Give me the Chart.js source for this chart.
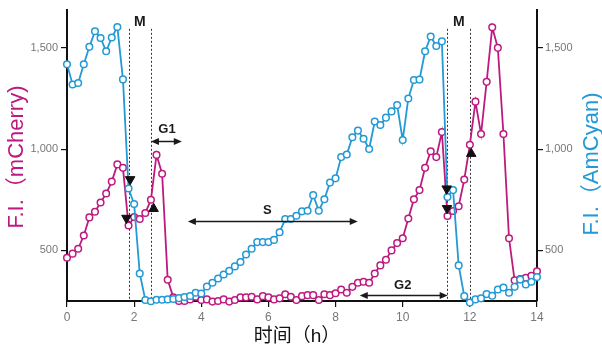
<!DOCTYPE html>
<html>
<head>
<meta charset="utf-8">
<script src="https://cdn.jsdelivr.net/npm/chart.js@4.4.1/dist/chart.umd.min.js"></script>
<style>
  html, body { margin: 0; padding: 0; background: #fff; }
  #wrap { width: 602px; height: 354px; }
</style>
</head>
<body>
<div id="wrap"><canvas id="chart" width="602" height="354"></canvas></div>
<script>
// fluorescence intensity, one frame every 10 min from 0 to 14 h
const mCherry = [
  464, 484, 508, 574, 663, 691, 737, 781, 840, 925, 908, 623, 665, 655, 685, 750, 972, 879, 355, 268,
  250, 250, 258, 271, 255, 258, 247, 250, 258, 247, 255, 268, 268, 271, 258, 274, 268, 258, 263, 283,
  271, 255, 274, 279, 279, 255, 283, 279, 288, 307, 291, 320, 340, 345, 340, 386, 426, 454, 500, 536,
  560, 658, 753, 798, 908, 990, 961, 1085, 670, 695, 718, 850, 1022, 1235, 1075, 1333, 1603, 1501, 1075, 560,
  352, 358, 365, 375, 397
];
const amCyan = [
  1420, 1320, 1327, 1420, 1506, 1583, 1550, 1484, 1552, 1604, 1345, 806, 729, 386, 255, 249, 256, 256, 258, 260,
  264, 270, 275, 291, 287, 322, 340, 361, 381, 399, 421, 443, 480, 508, 541, 541, 541, 552, 590, 655,
  655, 671, 693, 696, 773, 696, 753, 835, 856, 961, 974, 1059, 1092, 1052, 1001, 1137, 1120, 1156, 1187, 1218,
  1045, 1251, 1342, 1344, 1484, 1557, 1510, 1533, 764, 798, 426, 274, 242, 258, 263, 284, 276, 307, 317, 291,
  320, 356, 332, 345, 368
];
const stepHours = 1 / 6;
const xTicks = [0, 2, 4, 6, 8, 10, 12, 14];
const yTicks = [500, 1000, 1500];

// cell cycle annotations, in hours / F.I. units
const mitosisLines = [11 / 6, 2.5, 34 / 3, 12];
const mitosisTop = 1595;
const mitosisLabels = [2.17, 11.67];
const mitosisLabelY = 1627;
const phaseArrows = [
  { label: "G1", from: 2.5, to: 3.42, y: 1040, labelX: 2.98, labelY: 1098 },
  { label: "S", from: 3.6, to: 8.66, y: 645, labelX: 5.97, labelY: 696 },
  { label: "G2", from: 8.72, to: 11.34, y: 282, labelX: 10.0, labelY: 328 }
];
const markerPoints = [
  { x: 1.88, y: 851 }, { x: 1.77, y: 660 }, { x: 2.58, y: 706 },
  { x: 11.31, y: 805 }, { x: 11.32, y: 708 }, { x: 12.04, y: 978 }
];
const markerRotation = [180, 180, 0, 180, 180, 0];

const magenta = "#bd1a80";
const cyan = "#2399d5";
const sans = "'Liberation Sans', Arial, 'Noto Sans CJK SC', sans-serif";
const narrow = "'Liberation Sans Narrow', 'Arial Narrow', 'Liberation Sans', sans-serif";

const toXY = arr => arr.map((v, i) => ({ x: i * stepHours, y: v }));

function arrowHead(ctx, x, y, dir) {
  ctx.beginPath();
  ctx.moveTo(x, y);
  ctx.lineTo(x - dir * 8, y - 3.5);
  ctx.lineTo(x - dir * 8, y + 3.5);
  ctx.closePath();
  ctx.fill();
}

const annotations = {
  id: "annotations",
  beforeDatasetsDraw(chart) {
    const { ctx, scales: { x, y } } = chart;
    ctx.save();
    ctx.strokeStyle = "#333";
    ctx.lineWidth = 1;
    ctx.setLineDash([2, 2]);
    mitosisLines.forEach(t => {
      const px = Math.round(x.getPixelForValue(t)) + 0.5;
      ctx.beginPath();
      ctx.moveTo(px, y.getPixelForValue(mitosisTop));
      ctx.lineTo(px, y.getPixelForValue(250));
      ctx.stroke();
    });
    ctx.restore();
  },
  afterDatasetsDraw(chart) {
    const { ctx, scales: { x, y } } = chart;
    ctx.save();
    ctx.fillStyle = "#1a1a1a";
    ctx.strokeStyle = "#1a1a1a";
    ctx.textAlign = "center";
    ctx.textBaseline = "middle";

    ctx.font = "bold 14px " + sans;
    mitosisLabels.forEach(t => ctx.fillText("M", x.getPixelForValue(t), y.getPixelForValue(mitosisLabelY)));

    ctx.font = "bold 13px " + sans;
    ctx.lineWidth = 1.5;
    phaseArrows.forEach(a => {
      const x1 = x.getPixelForValue(a.from);
      const x2 = x.getPixelForValue(a.to);
      const py = Math.round(y.getPixelForValue(a.y)) + 0.5;
      ctx.beginPath();
      ctx.moveTo(x1 + 4, py);
      ctx.lineTo(x2 - 4, py);
      ctx.stroke();
      arrowHead(ctx, x1, py, -1);
      arrowHead(ctx, x2, py, 1);
      ctx.fillText(a.label, x.getPixelForValue(a.labelX), y.getPixelForValue(a.labelY));
    });

    // axis titles
    ctx.font = "22px " + sans;
    ctx.fillStyle = magenta;
    ctx.save();
    ctx.translate(17, 157);
    ctx.rotate(-Math.PI / 2);
    ctx.fillText("F.I.（mCherry)", 0, 0);
    ctx.restore();

    ctx.fillStyle = cyan;
    ctx.save();
    ctx.translate(592, 164);
    ctx.rotate(-Math.PI / 2);
    ctx.fillText("F.I.（AmCyan)", 0, 0);
    ctx.restore();

    ctx.fillStyle = "#111";
    ctx.font = "19px " + sans;
    ctx.fillText("时间（h）", 297, 337);
    ctx.restore();
  }
};

function yAxis(position, width) {
  return {
    type: "linear",
    position: position,
    min: 250,
    max: 1690,
    afterBuildTicks: s => { s.ticks = yTicks.map(v => ({ value: v })); },
    afterFit: s => { s.width = width; },
    border: { display: true, color: "#111", width: 2 },
    grid: { display: true, drawOnChartArea: false, drawTicks: true, tickLength: 6, color: "#111", lineWidth: 1.2 },
    ticks: {
      color: "#777",
      padding: position === "left" ? 3 : 2,
      font: { family: narrow, size: 11 },
      callback: v => v.toLocaleString("en-US")
    }
  };
}

new Chart(document.getElementById("chart"), {
  type: "line",
  data: {
    datasets: [
      {
        data: markerPoints,
        showLine: false,
        pointStyle: "triangle",
        pointRotation: markerRotation,
        pointRadius: 5.5,
        pointBackgroundColor: "#111",
        pointBorderColor: "#111",
        pointBorderWidth: 1,
        order: 0
      },
      {
        label: "AmCyan",
        data: toXY(amCyan),
        yAxisID: "y2",
        borderColor: cyan,
        borderWidth: 1.8,
        pointRadius: 3.3,
        pointBorderWidth: 1.5,
        pointBackgroundColor: "#fff",
        pointBorderColor: cyan,
        clip: false,
        order: 1
      },
      {
        label: "mCherry",
        data: toXY(mCherry),
        yAxisID: "y",
        borderColor: magenta,
        borderWidth: 1.8,
        pointRadius: 3.3,
        pointBorderWidth: 1.5,
        pointBackgroundColor: "#fff",
        pointBorderColor: magenta,
        clip: false,
        order: 2
      }
    ]
  },
  options: {
    responsive: false,
    animation: false,
    layout: { padding: { top: 7, left: 0, right: 0, bottom: 0 } },
    plugins: { legend: { display: false }, tooltip: { enabled: false } },
    scales: {
      x: {
        type: "linear",
        min: 0,
        max: 14,
        afterBuildTicks: s => { s.ticks = xTicks.map(v => ({ value: v })); },
        afterFit: s => { s.height = 53; },
        border: { display: true, color: "#111", width: 2 },
        grid: { display: true, drawOnChartArea: false, drawTicks: true, tickLength: 6, color: "#111", lineWidth: 1.2 },
        ticks: { color: "#777", padding: 3, maxRotation: 0, font: { family: sans, size: 12 } }
      },
      y: yAxis("left", 67),
      y2: yAxis("right", 65)
    }
  },
  plugins: [annotations]
});
</script>
</body>
</html>
